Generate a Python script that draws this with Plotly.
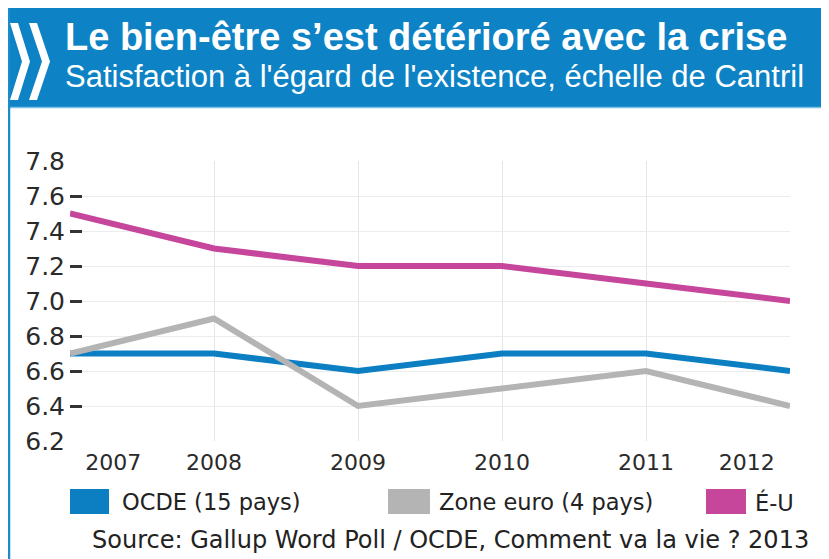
import plotly.graph_objects as go

# ---------------- data ----------------
years = [2007, 2008, 2009, 2010, 2011, 2012]
ocde = [6.7, 6.7, 6.6, 6.7, 6.7, 6.6]
zone_euro = [6.7, 6.9, 6.4, 6.5, 6.6, 6.4]
etats_unis = [7.5, 7.3, 7.2, 7.2, 7.1, 7.0]
series_names = ["OCDE (15 pays)", "Zone euro (4 pays)", "É-U"]
y_tick_values = [6.2, 6.4, 6.6, 6.8, 7.0, 7.2, 7.4, 7.6, 7.8]
x_tick_labels = ["2007", "2008", "2009", "2010", "2011", "2012"]

title_text = "Le bien-être s’est détérioré avec la crise"
subtitle_text = "Satisfaction à l'égard de l'existence, échelle de Cantril"
source_text = "Source: Gallup Word Poll / OCDE, Comment va la vie ? 2013"

# ---------------- style ----------------
BLUE = "#0b7fc2"
GREY = "#b4b4b4"
PINK = "#c5469b"
HEADER = "#0d82c4"
colors = [BLUE, GREY, PINK]
values = [ocde, zone_euro, etats_unis]

OFF = 8                     # page offset of the figure (body margin)
PAGE_W, PAGE_H = 829, 559
W, H = PAGE_W - OFF, PAGE_H - OFF
PLOT_L, PLOT_R, PLOT_T, PLOT_B = 70, 790, 161, 441   # page coordinates
ML = PLOT_L - OFF
MR = PAGE_W - PLOT_R
MT = PLOT_T - OFF
MB = PAGE_H - PLOT_B
PW, PH = PLOT_R - PLOT_L, PLOT_B - PLOT_T


def px(x):
    return (max(x, OFF) - PLOT_L) / PW


def py(y):
    return (PLOT_B - max(y, OFF)) / PH


# label positions of the year ticks (first and last shifted inward as in the source)
tick_positions = [2007.3, 2008, 2009, 2010, 2011, 2011.7]

fig = go.Figure()
for name, vals, col in zip(series_names, values, colors):
    fig.add_trace(go.Scatter(
        x=years, y=vals, name=name, mode="lines",
        line=dict(color=col, width=6), showlegend=False,
        hoverinfo="x+y+name",
    ))

shapes = []
annotations = []

# header band
shapes.append(dict(type="rect", xref="paper", yref="paper",
                   x0=px(6), x1=px(PAGE_W), y0=py(107), y1=py(7),
                   fillcolor=HEADER, line=dict(width=0), layer="below"))
shapes.append(dict(type="line", xref="paper", yref="paper",
                   x0=px(6), x1=px(PAGE_W), y0=py(107.5), y1=py(107.5),
                   line=dict(color="#7cc0e6", width=1.5)))
# left frame line
shapes.append(dict(type="line", xref="paper", yref="paper",
                   x0=px(9), x1=px(9), y0=py(7), y1=py(PAGE_H),
                   line=dict(color="#1b8bc9", width=2.5)))


# chevrons
def chevron(x0, top, bottom, tipx, thick):
    mid = (top + bottom) / 2
    pts = [(x0, top), (x0 + thick, top), (tipx + thick, mid),
           (x0 + thick, bottom), (x0, bottom), (tipx, mid)]
    d = "M " + " L ".join(f"{px(a):.5f},{py(b):.5f}" for a, b in pts) + " Z"
    return dict(type="path", xref="paper", yref="paper", path=d,
                fillcolor="white", line=dict(width=0))


shapes.append(chevron(10, 23, 100, 22, 8))
shapes.append(chevron(29, 23, 100, 42, 8))

annotations.append(dict(text=f"<b>{title_text}</b>", xref="paper", yref="paper",
                        x=px(63), y=py(37), xanchor="left", yanchor="middle",
                        showarrow=False,
                        font=dict(family="Liberation Sans, Arial", size=38, color="white")))
annotations.append(dict(text=subtitle_text, xref="paper", yref="paper",
                        x=px(63), y=py(77), xanchor="left", yanchor="middle",
                        showarrow=False,
                        font=dict(family="Liberation Sans, Arial", size=31, color="white")))

# legend swatches + labels
sw_x = [70, 388, 706]
sw_w = [39, 42, 40]
lab_x = [120, 437, 753]
for sx, sw, lx, name, col in zip(sw_x, sw_w, lab_x, series_names, colors):
    shapes.append(dict(type="rect", xref="paper", yref="paper",
                       x0=px(sx), x1=px(sx + sw), y0=py(514), y1=py(489),
                       fillcolor=col, line=dict(width=0)))
    annotations.append(dict(text=name, xref="paper", yref="paper",
                            x=px(lx), y=py(502), xanchor="left", yanchor="middle",
                            showarrow=False,
                            font=dict(family="DejaVu Sans", size=22.5, color="#222")))

annotations.append(dict(text=source_text, xref="paper", yref="paper",
                        x=px(90), y=py(540), xanchor="left", yanchor="middle",
                        showarrow=False,
                        font=dict(family="DejaVu Sans", size=24, color="#222")))

fig.update_layout(
    width=W, height=H,
    margin=dict(l=ML, r=MR, t=MT, b=MB, pad=0),
    paper_bgcolor="white", plot_bgcolor="white",
    shapes=shapes, annotations=annotations,
    xaxis=dict(
        range=[2007, 2012], tickmode="array", tickvals=tick_positions,
        ticktext=x_tick_labels, ticks="", showgrid=False, zeroline=False,
        showline=False, ticklabelstandoff=6,
        tickfont=dict(family="DejaVu Sans", size=22, color="#2a2a2a"),
        minor=dict(tickmode="array", tickvals=years, showgrid=True,
                   gridcolor="#e6e6e6", gridwidth=1, ticks=""),
    ),
    yaxis=dict(
        range=[6.2, 7.8], tickmode="array", tickvals=y_tick_values,
        ticktext=[f"{v:.1f}" for v in y_tick_values],
        ticks="inside", ticklen=12, tickwidth=2.5, tickcolor="#333",
        showgrid=True, gridcolor="#ececec", gridwidth=1, zeroline=False,
        showline=False, ticklabelstandoff=4,
        tickfont=dict(family="DejaVu Sans", size=25, color="#2a2a2a"),
    ),
)

fig.write_html("out.html")
